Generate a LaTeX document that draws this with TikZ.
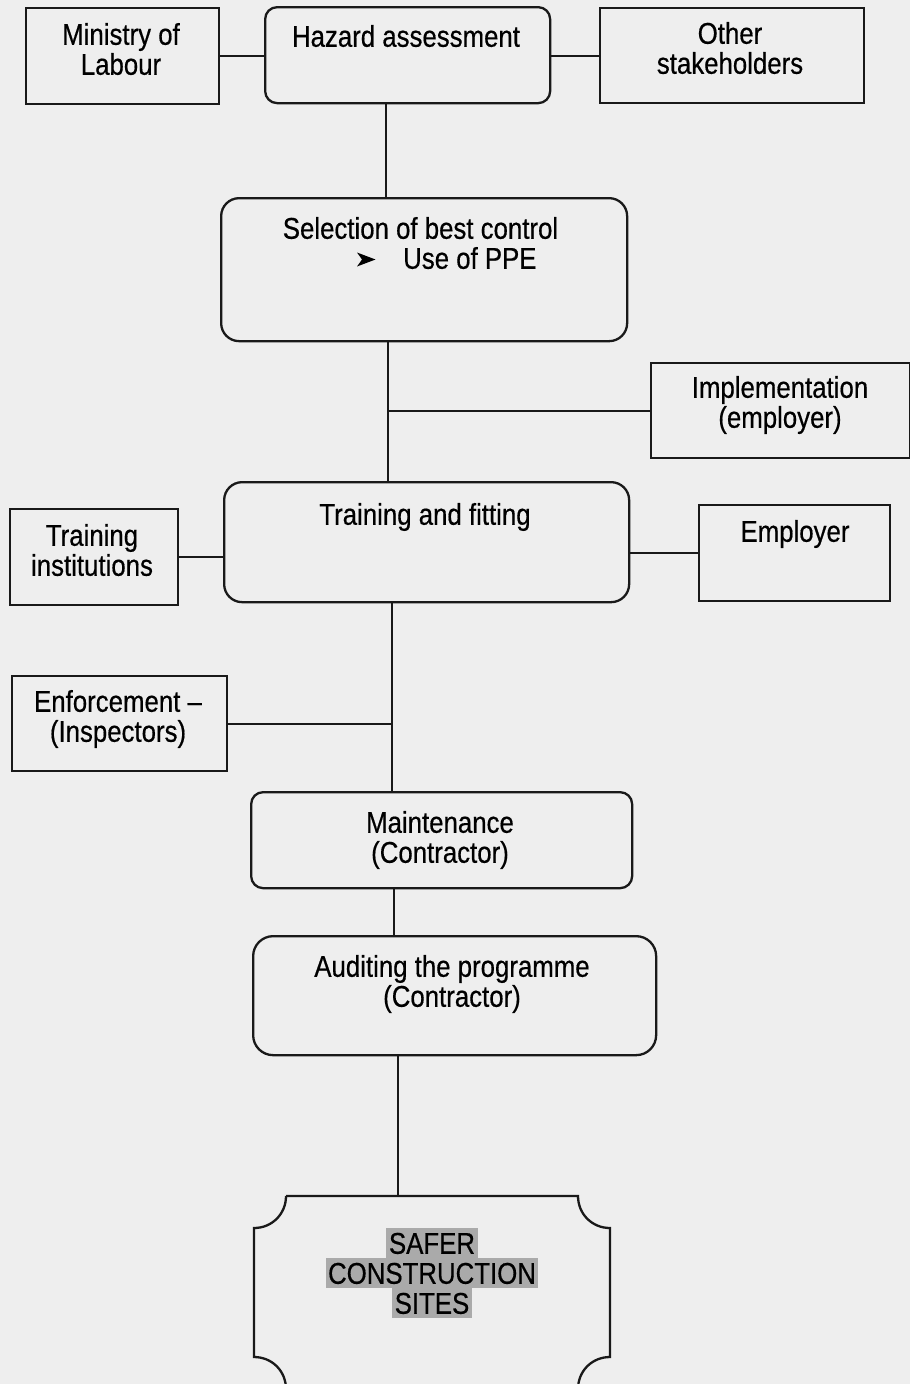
\documentclass[tikz,border=0pt]{standalone}
\usepackage{fontspec}
\setmainfont{Liberation Sans}[FakeStretch=0.86,FakeBold=0.5]
\usetikzlibrary{calc}
\definecolor{bgcol}{RGB}{238,238,238}
\definecolor{linecol}{RGB}{25,25,25}
\definecolor{hlcol}{RGB}{170,170,170}
\begin{document}
\begin{tikzpicture}[x=1pt,y=-1pt,
  box/.style={draw=linecol, line width=2.3pt, inner sep=0pt, anchor=north west},
  rbox/.style={box, rounded corners=#1},
  conn/.style={draw=linecol, line width=2.3pt},
  txt/.style={align=center, text height=21.5pt, text depth=0pt, inner sep=0pt,
    font=\fontsize{30}{30}\selectfont, text=black},
  hl/.style={fill=hlcol, inner xsep=2.5pt, inner ysep=0pt, text height=25.75pt,
    text depth=4.25pt, anchor=base, font=\fontsize{30}{30}\selectfont}]
\useasboundingbox (0,0) rectangle (910,1384);
\clip (0,0) rectangle (910,1384);
\fill[bgcol] (0,0) rectangle (910,1384);

% boxes
\node[box, minimum width=193pt, minimum height=96pt] (min) at (25,7) {};
\node[rbox=12pt, minimum width=285pt, minimum height=96pt] (haz) at (264,6) {};
\node[box, minimum width=264pt, minimum height=95pt] (oth) at (599,7) {};
\node[rbox=18pt, minimum width=406pt, minimum height=143pt] (sel) at (220,197) {};
\node[box, minimum width=259pt, minimum height=95pt] (imp) at (650,362) {};
\node[rbox=18pt, minimum width=405pt, minimum height=120pt] (tra) at (223,481) {};
\node[box, minimum width=168pt, minimum height=96pt] (ins) at (9,508) {};
\node[box, minimum width=191pt, minimum height=96pt] (emp) at (698,504) {};
\node[box, minimum width=215pt, minimum height=95pt] (enf) at (11,675) {};
\node[rbox=12pt, minimum width=381pt, minimum height=96pt] (mai) at (250,791) {};
\node[rbox=20pt, minimum width=403pt, minimum height=119pt] (aud) at (252,935) {};

% plaque shape
\draw[conn] (286,1196) -- (578,1196)
  .. controls (578,1214) and (592,1228) .. (610,1228)
  -- (610,1357)
  .. controls (592,1357) and (578,1371) .. (578,1389)
  -- (286,1389)
  .. controls (286,1371) and (272,1357) .. (254,1357)
  -- (254,1228)
  .. controls (272,1228) and (286,1214) .. (286,1196);
\coordinate (safetop) at (398,1196);

% texts (y = visual centre of the last line)
\node[txt] (tmin) at (121,64) {Ministry of\\Labour};
\node[txt] (thaz) at (406,36) {Hazard assessment};
\node[txt] (toth) at (730,63) {Other\\stakeholders};
\node[txt] (tsel) at (420.5,228) {Selection of best control};
% bullet arrowhead
\fill[black] (357,252.5) -- (375.5,259.5) -- (357,266.5) -- (362,259.5) -- cycle;
\node[txt, anchor=west] (tppe) at (403,258) {Use of PPE};
\node[txt] (timp) at (780,417) {Implementation\\(employer)};
\node[txt] (ttra) at (425,514) {Training and fitting};
\node[txt] (tins) at (92,565) {Training\\institutions};
\node[txt] (temp) at (795,531) {Employer};
\node[txt] (tenf) at (118,731) {Enforcement –\\(Inspectors)};
\node[txt] (tmai) at (440,852) {Maintenance\\(Contractor)};
\node[txt] (taud) at (452,996) {Auditing the programme\\(Contractor)};
\node[hl] (s1) at (432,1253.75) {SAFER};
\node[hl] (s2) at (432,1283.75) {CONSTRUCTION};
\node[hl] (s3) at (432,1313.75) {SITES};

% trunk x positions
\coordinate (x1) at (386,0);
\coordinate (x2) at (388,0);
\coordinate (x3) at (392,0);
\coordinate (x4) at (394,0);
\coordinate (x5) at (398,0);

% connectors
\draw[conn] (min.east) -- (min.east -| haz.west);
\draw[conn] (haz.east |- oth.west) -- (oth.west);
\draw[conn] (haz.south -| x1) -- (sel.north -| x1);
\draw[conn] (sel.south -| x2) -- (tra.north -| x2);
\draw[conn] (imp.west -| x2) -- (imp.west);
\draw[conn] (ins.east) -- (ins.east -| tra.west);
\draw[conn] (emp.west -| tra.east) -- (emp.west);
\draw[conn] (tra.south -| x3) -- (mai.north -| x3);
\draw[conn] (enf.east) -- (enf.east -| x3);
\draw[conn] (mai.south -| x4) -- (aud.north -| x4);
\draw[conn] (aud.south -| x5) -- (safetop);
\end{tikzpicture}
\end{document}
